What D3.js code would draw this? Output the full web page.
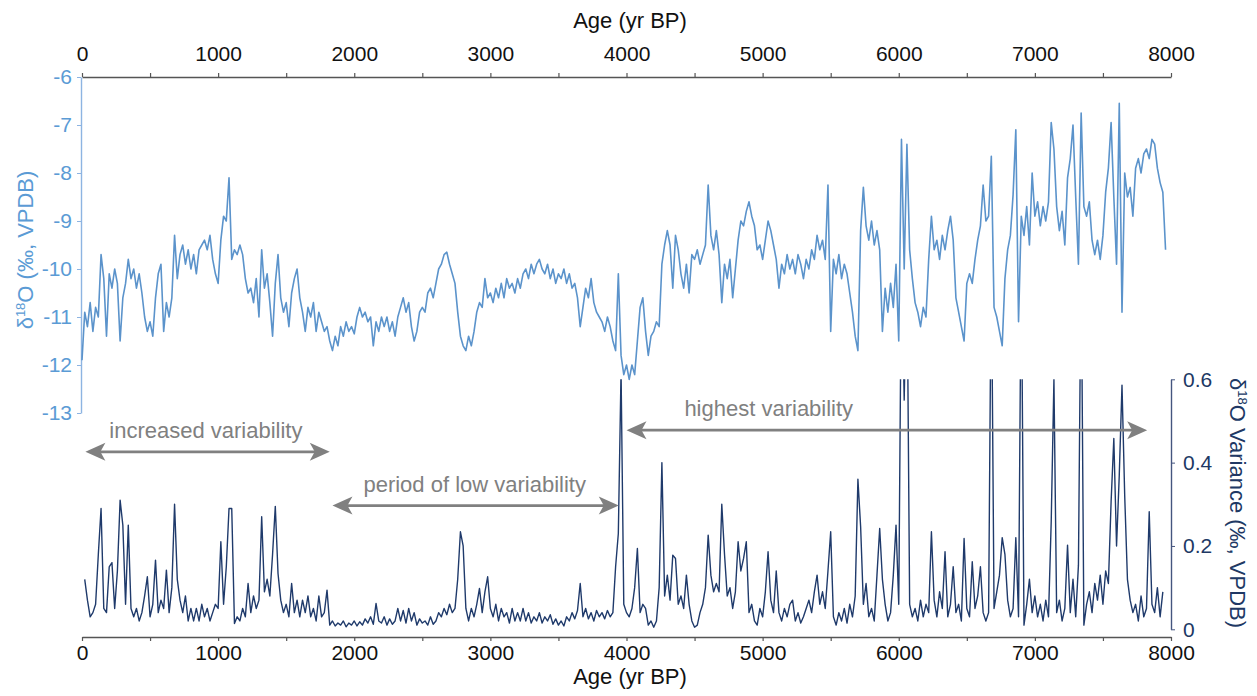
<!DOCTYPE html>
<html>
<head>
<meta charset="utf-8">
<script src="https://cdn.jsdelivr.net/npm/d3@7/dist/d3.min.js"></script>
<style>
body { margin: 0; background: #fff; }
svg text { font-family: "Liberation Sans", Arial, sans-serif; }
</style>
</head>
<body>
<svg class="mysvg"></svg>
<script>
// d18O record, one value every 20 yr starting at 0 yr BP
var ageStep = 20;
var d18OStart = 0;
var d18O = [
  -11.9, -10.9, -11.2, -10.7, -11.3, -10.8, -11.0, -9.7, -10.2, -11.4,
  -10.1, -10.4, -10.0, -10.3, -11.5, -10.6, -10.3, -9.8, -10.2, -10.0,
  -10.4, -10.1, -10.5, -11.0, -11.3, -11.1, -11.4, -10.6, -10.1, -9.9,
  -11.3, -10.7, -11.0, -10.6, -9.3, -10.2, -9.7, -9.5, -9.9, -9.6,
  -10.0, -9.7, -10.1, -9.6, -9.5, -9.4, -9.6, -9.3, -9.8, -10.1,
  -10.3, -9.4, -8.9, -9.0, -8.1, -9.8, -9.6, -9.7, -9.5, -9.7,
  -10.2, -10.5, -10.4, -10.7, -10.2, -11.0, -9.6, -10.4, -10.1, -10.7,
  -11.4, -10.3, -9.7, -10.6, -10.9, -10.7, -11.2, -10.5, -10.2, -10.0,
  -10.6, -10.9, -11.3, -10.8, -11.0, -10.7, -11.3, -10.9, -11.1, -11.3,
  -11.2, -11.5, -11.7, -11.4, -11.6, -11.2, -11.4, -11.1, -11.3, -11.2,
  -11.35, -11.0, -10.8, -11.0, -10.9, -11.1, -11.0, -11.6, -11.1, -11.3,
  -11.0, -11.2, -11.0, -11.3, -11.1, -11.4, -11.0, -10.8, -10.6, -10.9,
  -10.7, -11.2, -11.5, -11.3, -10.9, -10.8, -10.9, -10.5, -10.4, -10.6,
  -10.3, -10.0, -9.9, -9.7, -9.65, -9.9, -10.1, -10.3, -10.9, -11.4,
  -11.6, -11.7, -11.4, -11.6, -11.3, -10.9, -10.7, -10.8, -10.2, -10.6,
  -10.5, -10.7, -10.4, -10.6, -10.3, -10.6, -10.2, -10.4, -10.3, -10.5,
  -10.2, -10.4, -10.1, -10.0, -10.2, -9.9, -10.1, -9.9, -9.8, -10.0,
  -10.1, -9.9, -10.2, -10.0, -10.3, -10.1, -10.2, -10.0, -10.3, -10.1,
  -10.4, -10.3, -10.6, -11.2, -10.8, -10.4, -10.6, -10.2, -10.7, -10.9,
  -11.0, -11.1, -11.3, -11.0, -11.2, -11.5, -11.7, -10.1, -11.8, -12.2,
  -12.0, -12.3, -12.0, -12.2, -11.5, -10.8, -10.6, -11.3, -11.8, -11.4,
  -11.3, -11.1, -11.2, -9.9, -9.5, -9.2, -9.5, -10.4, -9.3, -9.6,
  -10.1, -10.4, -9.9, -10.5, -9.7, -9.8, -9.6, -9.9, -9.7, -9.5,
  -8.25, -9.3, -9.6, -9.2, -9.7, -10.7, -9.9, -10.2, -9.8, -10.6,
  -10.0, -9.4, -9.0, -9.1, -8.8, -8.6, -8.9, -9.1, -9.6, -9.5,
  -9.8, -9.4, -9.0, -9.2, -9.5, -9.8, -10.4, -9.9, -10.1, -9.7,
  -10.0, -9.8, -10.1, -9.7, -9.9, -10.2, -9.8, -10.0, -9.6, -9.8,
  -9.3, -9.6, -9.4, -9.8, -8.25, -11.3, -9.8, -10.1, -9.7, -10.2,
  -9.9, -10.1, -10.5, -10.9, -11.4, -11.7, -9.2, -8.3, -9.1, -9.4,
  -9.0, -9.5, -9.2, -9.6, -11.3, -10.4, -10.9, -10.3, -10.8, -9.9,
  -11.5, -7.3, -10.0, -7.4, -9.6, -10.2, -10.7, -10.9, -11.2, -10.8,
  -11.0, -9.8, -8.9, -9.6, -9.4, -9.8, -9.3, -9.6, -9.2, -8.9,
  -9.4, -10.6, -10.9, -11.2, -11.5, -10.3, -10.1, -10.3, -9.8, -9.4,
  -9.1, -8.25, -9.0, -8.9, -7.65, -10.8, -11.0, -11.3, -11.6, -10.2,
  -9.6, -9.3, -8.45, -7.1, -11.1, -8.9, -9.3, -8.7, -9.5, -8.0,
  -8.9, -8.6, -9.1, -8.7, -9.0, -8.6, -6.95, -7.5, -8.7, -9.2,
  -8.8, -9.5, -8.1, -7.7, -7.0, -8.5, -9.9, -6.75, -8.7, -8.9,
  -8.6, -9.4, -9.7, -9.4, -9.8, -9.3, -8.4, -7.9, -6.95, -8.5,
  -9.9, -6.55, -10.9, -8.0, -8.5, -8.3, -8.9, -7.9, -7.7, -8.0,
  -7.6, -7.5, -7.7, -7.3, -7.4, -7.9, -8.2, -8.4, -9.6
];

// d18O variance, one value every 20 yr starting at 20 yr BP
var varianceStart = 20;
var variance = [
  0.12, 0.07, 0.03, 0.04, 0.06, 0.18, 0.29, 0.05, 0.04, 0.15,
  0.16, 0.05, 0.14, 0.31, 0.25, 0.06, 0.25, 0.05, 0.03, 0.05,
  0.02, 0.04, 0.08, 0.126, 0.03, 0.06, 0.166, 0.04, 0.07, 0.05,
  0.142, 0.04, 0.1, 0.30, 0.12, 0.07, 0.04, 0.08, 0.02, 0.05,
  0.02, 0.05, 0.02, 0.06, 0.03, 0.05, 0.02, 0.04, 0.06, 0.05,
  0.21, 0.06, 0.15, 0.29, 0.29, 0.014, 0.03, 0.02, 0.05, 0.03,
  0.11, 0.04, 0.08, 0.05, 0.07, 0.27, 0.09, 0.12, 0.08, 0.18,
  0.295, 0.134, 0.07, 0.04, 0.06, 0.03, 0.11, 0.04, 0.07, 0.03,
  0.07, 0.04, 0.08, 0.03, 0.05, 0.02, 0.08, 0.03, 0.04, 0.094,
  0.01, 0.02, 0.008, 0.015, 0.01, 0.02, 0.006, 0.015, 0.01, 0.02,
  0.008, 0.018, 0.01, 0.025, 0.015, 0.03, 0.012, 0.062, 0.02, 0.015,
  0.03, 0.01, 0.025, 0.012, 0.02, 0.05, 0.02, 0.045, 0.015, 0.05,
  0.02, 0.04, 0.01, 0.025, 0.015, 0.02, 0.01, 0.03, 0.012, 0.02,
  0.04, 0.03, 0.05, 0.035, 0.06, 0.04, 0.05, 0.12, 0.234, 0.2,
  0.05, 0.02, 0.05, 0.03, 0.06, 0.098, 0.04, 0.09, 0.126, 0.05,
  0.03, 0.06, 0.02, 0.05, 0.03, 0.04, 0.015, 0.05, 0.02, 0.04,
  0.02, 0.05, 0.02, 0.04, 0.015, 0.03, 0.02, 0.04, 0.015, 0.03,
  0.02, 0.035, 0.012, 0.025, 0.01, 0.02, 0.008, 0.03, 0.02, 0.04,
  0.025, 0.045, 0.11, 0.03, 0.05, 0.025, 0.04, 0.02, 0.045, 0.03,
  0.04, 0.025, 0.045, 0.03, 0.04, 0.15, 0.23, 0.62, 0.06, 0.04,
  0.03, 0.05, 0.1, 0.194, 0.04, 0.06, 0.05, 0.01, 0.02, 0.005,
  0.02, 0.1, 0.40, 0.08, 0.13, 0.07, 0.178, 0.17, 0.06, 0.08,
  0.05, 0.13, 0.06, 0.02, 0.005, 0.01, 0.04, 0.06, 0.1, 0.226,
  0.13, 0.09, 0.11, 0.09, 0.30, 0.18, 0.08, 0.1, 0.05, 0.09,
  0.21, 0.14, 0.17, 0.21, 0.04, 0.06, 0.02, 0.01, 0.05, 0.03,
  0.09, 0.186, 0.07, 0.04, 0.14, 0.04, 0.02, 0.05, 0.03, 0.06,
  0.07, 0.02, 0.04, 0.015, 0.03, 0.05, 0.07, 0.04, 0.09, 0.13,
  0.06, 0.09, 0.05, 0.14, 0.234, 0.03, 0.01, 0.04, 0.02, 0.05,
  0.015, 0.06, 0.03, 0.08, 0.36, 0.246, 0.06, 0.11, 0.03, 0.05,
  0.02, 0.13, 0.242, 0.12, 0.06, 0.02, 0.04, 0.13, 0.25, 0.06,
  0.9, 0.55, 0.9, 0.06, 0.03, 0.05, 0.02, 0.07, 0.03, 0.06,
  0.04, 0.234, 0.07, 0.03, 0.09, 0.05, 0.186, 0.03, 0.06, 0.15,
  0.04, 0.06, 0.02, 0.218, 0.05, 0.03, 0.162, 0.05, 0.08, 0.15,
  0.04, 0.02, 0.04, 0.9, 0.05, 0.09, 0.13, 0.22, 0.18, 0.07,
  0.03, 0.05, 0.22, 0.03, 0.9, 0.01, 0.06, 0.12, 0.04, 0.08,
  0.03, 0.06, 0.02, 0.07, 0.03, 0.258, 0.6, 0.04, 0.07, 0.02,
  0.05, 0.202, 0.04, 0.12, 0.03, 0.154, 0.9, 0.01, 0.06, 0.09,
  0.04, 0.11, 0.07, 0.13, 0.06, 0.14, 0.11, 0.306, 0.458, 0.2,
  0.37, 0.586, 0.32, 0.12, 0.07, 0.04, 0.06, 0.02, 0.08, 0.03,
  0.05, 0.282, 0.06, 0.04, 0.1, 0.03, 0.09
];

var ageTicks = [0, 1000, 2000, 3000, 4000, 5000, 6000, 7000, 8000];
var d18OTicks = [-6, -7, -8, -9, -10, -11, -12, -13];
var varianceTicks = [0, 0.2, 0.4, 0.6];

// the three arrows, in age and variance units
var notes = [
  {text: "increased variability", from: 25, to: 1820, level: 0.426, textAge: 910},
  {text: "period of low variability", from: 1840, to: 3943, level: 0.297, textAge: 2885},
  {text: "highest variability", from: 4000, to: 7825, level: 0.478, textAge: 5045}
];

var svgWidth = 1257,
    svgHeight = 696;

var svg = d3.select(".mysvg")
    .attr("width", svgWidth)
    .attr("height", svgHeight);

var x = d3.scaleLinear().domain([0, 8000]).range([82, 1171]);
var yTop = d3.scaleLinear().domain([-6, -13]).range([77, 413]);
var yVar = d3.scaleLinear().domain([0, 0.6]).range([629.3, 379.3]);

var fontSize = 21;
var lightBlue = "#5b93cb",
    navy = "#1f3a6b",
    grey = "#808080";

//top age axis
var topAxis = svg.append("g")
    .attr("transform", "translate(0,77)")
    .call(d3.axisTop(x)
        .tickValues(d3.range(0, 8001, 500))
        .tickFormat(function(d) { return ageTicks.indexOf(d) >= 0 ? d : ""; })
        .tickSize(4).tickSizeOuter(0).tickPadding(12));

//bottom age axis
var bottomAxis = svg.append("g")
    .attr("transform", "translate(0,637)")
    .call(d3.axisBottom(x)
        .tickValues(d3.range(0, 8001, 500))
        .tickFormat(function(d) { return ageTicks.indexOf(d) >= 0 ? d : ""; })
        .tickSize(4).tickSizeOuter(0).tickPadding(4));

[topAxis, bottomAxis].forEach(function(a) {
    a.select(".domain").attr("stroke", "#555").attr("stroke-width", 1.4);
    a.selectAll(".tick line").attr("stroke", "#555").attr("stroke-width", 1.2);
    a.selectAll("text").attr("fill", "#111").style("font-size", fontSize + "px")
        .style("font-family", "'Liberation Sans', Arial, sans-serif");
});

//left d18O axis, plain hyphen minus like the original
var leftAxis = svg.append("g")
    .attr("transform", "translate(81,0)")
    .call(d3.axisLeft(yTop).tickValues(d18OTicks)
        .tickFormat(function(d) { return String(d); })
        .tickSize(4).tickSizeOuter(0).tickPadding(5));
leftAxis.select(".domain").attr("stroke", "#8db4e2").attr("stroke-width", 1.4);
leftAxis.selectAll(".tick line").attr("stroke", "#8db4e2");
leftAxis.selectAll("text").attr("fill", "#5b9bd5").style("font-size", fontSize + "px")
    .style("font-family", "'Liberation Sans', Arial, sans-serif");

//right variance axis
var rightAxis = svg.append("g")
    .attr("transform", "translate(1171,0)")
    .call(d3.axisRight(yVar).tickValues(varianceTicks)
        .tickFormat(function(d) { return String(d); })
        .tickSize(4).tickSizeOuter(0).tickPadding(8));
rightAxis.select(".domain").attr("stroke", "#44557f").attr("stroke-width", 1.4);
rightAxis.selectAll(".tick line").attr("stroke", "#44557f");
rightAxis.selectAll("text").attr("fill", "#203864").style("font-size", fontSize + "px")
    .style("font-family", "'Liberation Sans', Arial, sans-serif");

//axis titles
svg.append("text").attr("x", 630).attr("y", 28).attr("text-anchor", "middle")
    .style("font-size", "22px").attr("fill", "#111").text("Age (yr BP)");
svg.append("text").attr("x", 630).attr("y", 684).attr("text-anchor", "middle")
    .style("font-size", "22px").attr("fill", "#111").text("Age (yr BP)");

var leftTitle = svg.append("text")
    .attr("transform", "translate(33,250) rotate(-90)")
    .attr("text-anchor", "middle")
    .style("font-size", "22px").attr("fill", "#5b9bd5");
leftTitle.append("tspan").text("δ");
leftTitle.append("tspan").attr("dy", -8).style("font-size", "13px").text("18");
leftTitle.append("tspan").attr("dy", 8).text("O (‰, VPDB)");

var rightTitle = svg.append("text")
    .attr("transform", "translate(1230,503) rotate(90)")
    .attr("text-anchor", "middle")
    .style("font-size", "22px").attr("fill", "#203864");
rightTitle.append("tspan").text("δ");
rightTitle.append("tspan").attr("dy", -8).style("font-size", "13px").text("18");
rightTitle.append("tspan").attr("dy", 8).text("O Variance (‰, VPDB)");

//variance spikes above 0.6 are cut off at the top of the axis
svg.append("clipPath").attr("id", "varclip")
    .append("rect").attr("x", 82).attr("y", 379.3).attr("width", 1090).attr("height", 262);

var topLine = d3.line()
    .x(function(d, i) { return x(d18OStart + i * ageStep); })
    .y(function(d) { return yTop(d); });

var varLine = d3.line()
    .x(function(d, i) { return x(varianceStart + i * ageStep); })
    .y(function(d) { return yVar(d); });

svg.append("path")
    .datum(d18O)
    .attr("d", topLine)
    .attr("fill", "none")
    .attr("stroke", lightBlue)
    .attr("stroke-width", 1.6)
    .attr("stroke-linejoin", "round");

svg.append("path")
    .datum(variance)
    .attr("d", varLine)
    .attr("clip-path", "url(#varclip)")
    .attr("fill", "none")
    .attr("stroke", navy)
    .attr("stroke-width", 1.4)
    .attr("stroke-linejoin", "round");

//grey double arrows with their labels
var note = svg.selectAll(".note")
    .data(notes)
    .enter()
    .append("g")
    .attr("class", "note");

note.append("line")
    .attr("x1", function(d) { return x(d.from) + 14; })
    .attr("x2", function(d) { return x(d.to) - 14; })
    .attr("y1", function(d) { return yVar(d.level); })
    .attr("y2", function(d) { return yVar(d.level); })
    .attr("stroke", grey)
    .attr("stroke-width", 2.8);

note.append("path")
    .attr("d", function(d) {
        var y = yVar(d.level), a = x(d.from), b = x(d.to);
        return "M" + a + "," + y + "L" + (a + 20) + "," + (y - 9) + "L" + (a + 15) + "," + y +
            "L" + (a + 20) + "," + (y + 9) + "Z" +
            "M" + b + "," + y + "L" + (b - 20) + "," + (y - 9) + "L" + (b - 15) + "," + y +
            "L" + (b - 20) + "," + (y + 9) + "Z";
    })
    .attr("fill", grey);

note.append("text")
    .attr("x", function(d) { return x(d.textAge); })
    .attr("y", function(d) { return yVar(d.level) - 14; })
    .attr("text-anchor", "middle")
    .style("font-size", "22px")
    .attr("fill", grey)
    .text(function(d) { return d.text; });
</script>
</body>
</html>
